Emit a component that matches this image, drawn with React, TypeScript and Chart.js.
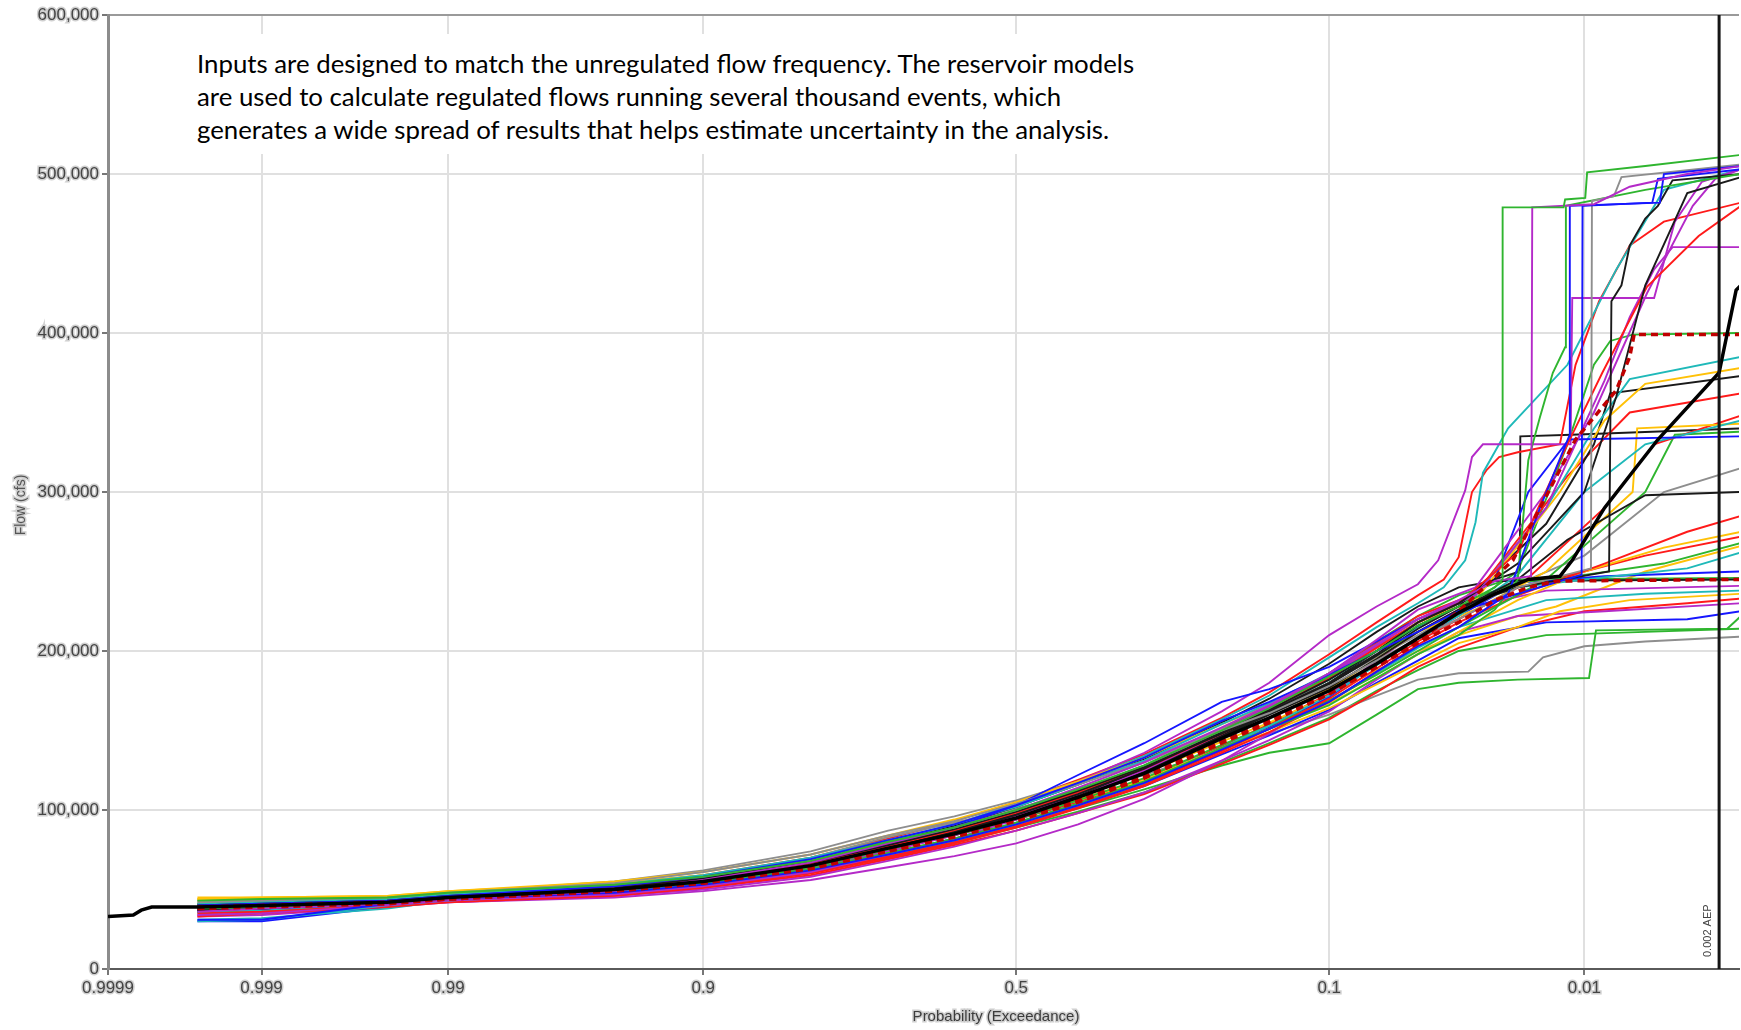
import { useEffect, useRef } from 'react';
import { Chart, registerables } from 'chart.js';

Chart.register(...registerables);

// ---------------- data (flows in thousands of cfs, x = exceedance probability) ----------------
const X_TICK_PROBS = [0.9999, 0.999, 0.99, 0.9, 0.5, 0.1, 0.01];
const X_TICK_LABELS = ['0.9999', '0.999', '0.99', '0.9', '0.5', '0.1', '0.01'];
const X_LEFT_PROB = 0.9999;
const X_RIGHT_PROB = 0.00154;
const Y_MAX = 600000;
const Y_STEP = 100000;
const AEP_PROB = 0.002;
const AEP_LABEL = '0.002 AEP';
const X_TITLE = 'Probability (Exceedance)';
const Y_TITLE = 'Flow (cfs)';
const NOTE_LINES = [
  'Inputs are designed to match the unregulated flow frequency. The reservoir models',
  'are used to calculate regulated flows running several thousand events, which',
  'generates a wide spread of results that helps estimate uncertainty in the analysis.',
];

// shared probability grid for the body of every realization
const BODY_P = [0.9996, 0.999, 0.995, 0.99, 0.95, 0.9, 0.8, 0.7, 0.6, 0.5, 0.4, 0.3, 0.2, 0.15, 0.1, 0.07, 0.05];

// median (thick black) curve
const MEDIAN_P = [0.9999, 0.99985, 0.99983, 0.9998, 0.9996, 0.999, 0.995, 0.99, 0.95, 0.9, 0.8, 0.7, 0.6, 0.5, 0.4, 0.3, 0.2, 0.15, 0.1, 0.07, 0.05, 0.035, 0.025, 0.018, 0.013, 0.0114, 0.008, 0.0043, 0.002, 0.0016, 0.0015];
const MEDIAN_FLOW = [33, 34, 37, 39, 39, 40, 42, 45, 50, 55, 65, 76, 85, 95, 108, 123, 145, 158, 175, 192, 208, 224, 236, 245, 247, 257, 290, 333, 375, 427, 430];

// dashed dark-red curves
const D1_BODY = [39, 40, 42, 44, 49, 54, 63, 74, 83, 93, 105, 120, 142, 155, 173, 190, 206];
const D1_TAIL = [[0.035, 225], [0.021, 257], [0.011, 333], [0.007, 364], [0.006, 385], [0.0057, 399], [0.0015, 399]];
const D2_BODY = [38, 39, 41, 44, 49, 54, 64, 75, 84, 94, 106, 121, 143, 156, 173, 190, 205];
const D2_TAIL = [[0.035, 218], [0.025, 232], [0.018, 240], [0.0135, 244], [0.0015, 245]];

// individual realizations: body on BODY_P, tail as [probability, flow] pairs
const S01 = [43, 44, 45, 48, 53, 58, 68, 80, 89, 100, 113, 128, 150, 164, 184, 200, 216];
const T01 = [[0.035, 228], [0.025, 240], [0.0232, 245], [0.0232, 479], [0.0125, 479], [0.0123, 484], [0.0099, 485], [0.0097, 501], [0.005, 505], [0.0015, 512]];
const S02 = [36, 38, 41, 44, 49, 56, 67, 79, 89, 100, 114, 130, 152, 166, 186, 204, 220];
const T02 = [[0.035, 232], [0.025, 244], [0.0175, 247], [0.0173, 479], [0.009, 481], [0.006, 492], [0.003, 500], [0.0015, 505]];
const S03 = [31, 31, 41, 44, 48, 53, 62, 72, 81, 91, 103, 117, 138, 151, 168, 187, 203];
const T03 = [[0.035, 215], [0.022, 236], [0.016, 290], [0.0118, 335], [0.0117, 480], [0.0042, 482], [0.004, 500], [0.0015, 505]];
const S04 = [40, 41, 43, 46, 52, 58, 69, 81, 91, 103, 117, 133, 156, 168, 185, 200, 212];
const T04 = [[0.035, 225], [0.02, 236], [0.0103, 248], [0.0102, 480], [0.0046, 482], [0.0043, 497], [0.0015, 503]];
const S05 = [42, 43, 45, 48, 54, 61, 72, 84, 93, 104, 116, 130, 150, 161, 178, 194, 208];
const T05 = [[0.035, 220], [0.02, 240], [0.0093, 252], [0.0092, 483], [0.0072, 486], [0.0066, 498], [0.0015, 506]];
const S06 = [38, 39, 41, 44, 49, 54, 63, 73, 82, 92, 104, 118, 139, 151, 166, 183, 198];
const T06 = [[0.035, 210], [0.025, 226], [0.02, 245], [0.018, 320], [0.016, 347], [0.014, 375], [0.0123, 391], [0.0122, 480], [0.005, 490], [0.0015, 500]];
const S07 = [40, 41, 43, 46, 51, 57, 67, 78, 88, 99, 112, 127, 148, 162, 180, 198, 216];
const T07 = [[0.035, 228], [0.02, 240], [0.0076, 250], [0.0074, 420], [0.0066, 430], [0.006, 455], [0.005, 472], [0.0043, 480], [0.0036, 496], [0.0015, 500]];
const S08 = [37, 38, 42, 45, 50, 55, 65, 76, 86, 97, 110, 126, 149, 163, 182, 200, 218];
const T08 = [[0.035, 230], [0.02, 255], [0.01, 300], [0.007, 360], [0.005, 430], [0.003, 488], [0.0015, 498]];
const S09 = [39, 40, 42, 45, 51, 57, 66, 77, 87, 98, 111, 126, 148, 163, 183, 202, 218];
const T09 = [[0.035, 230], [0.02, 262], [0.012, 330], [0.0082, 375], [0.0049, 429], [0.0026, 461], [0.0015, 480]];
const S10 = [34, 35, 40, 43, 47, 52, 61, 72, 82, 94, 108, 125, 148, 164, 186, 207, 226];
const T10 = [[0.03, 240], [0.015, 300], [0.009, 350], [0.0049, 425], [0.0028, 480], [0.0021, 497], [0.0015, 503]];
const S11 = [38, 39, 41, 44, 49, 54, 63, 74, 84, 96, 110, 127, 150, 165, 185, 203, 220];
const T11 = [[0.03, 235], [0.015, 290], [0.008, 370], [0.006, 410], [0.0045, 440], [0.0036, 454], [0.0015, 454]];
const S14 = [37, 38, 41, 45, 50, 56, 66, 78, 89, 103, 122, 142, 168, 176, 190, 206, 220];
const T14 = [[0.035, 230], [0.025, 245], [0.018, 300], [0.0118, 333], [0.0015, 335]];
const S15 = [39, 40, 42, 45, 50, 56, 66, 77, 86, 96, 109, 124, 146, 160, 177, 195, 212];
const T15 = [[0.035, 226], [0.02, 245], [0.012, 270], [0.005, 298], [0.0015, 300]];
const S16 = [41, 42, 44, 47, 53, 59, 70, 81, 91, 102, 116, 131, 154, 167, 186, 204, 220];
const T16 = [[0.03, 235], [0.015, 290], [0.009, 340], [0.006, 371], [0.0015, 385]];
const S17 = [45, 45, 46, 49, 55, 61, 72, 84, 94, 105, 118, 133, 154, 166, 184, 202, 218];
const T17 = [[0.03, 232], [0.013, 300], [0.008, 345], [0.005, 368], [0.0015, 378]];
const S18 = [38, 39, 42, 45, 49, 55, 65, 76, 86, 97, 110, 125, 147, 161, 179, 197, 214];
const T18 = [[0.035, 228], [0.015, 280], [0.009, 330], [0.0075, 362], [0.0015, 373]];
const S19 = [40, 41, 43, 46, 52, 57, 67, 78, 88, 99, 112, 127, 150, 165, 186, 205, 222];
const T19 = [[0.03, 236], [0.012, 310], [0.006, 350], [0.0015, 362]];
const S20 = [30, 31, 40, 43, 48, 53, 62, 72, 81, 91, 103, 117, 139, 153, 172, 191, 208];
const T20 = [[0.035, 222], [0.02, 248], [0.01, 300], [0.005, 330], [0.0015, 345]];
const S21 = [44, 44, 45, 48, 53, 58, 68, 79, 88, 98, 110, 124, 145, 158, 176, 195, 212];
const T21 = [[0.03, 226], [0.015, 250], [0.0058, 300], [0.0055, 340], [0.0015, 343]];
const S22 = [35, 36, 40, 43, 47, 52, 61, 71, 80, 90, 102, 116, 137, 151, 170, 189, 206];
const T22 = [[0.035, 220], [0.02, 240], [0.008, 290], [0.0045, 330], [0.0015, 348]];
const S23 = [39, 40, 42, 45, 50, 55, 64, 75, 84, 94, 106, 120, 141, 153, 169, 185, 200];
const T23 = [[0.035, 215], [0.015, 245], [0.005, 300], [0.0035, 336], [0.0015, 338]];
const S24 = [43, 43, 45, 48, 55, 62, 74, 87, 96, 106, 118, 131, 151, 163, 180, 196, 210];
const T24 = [[0.035, 224], [0.02, 242], [0.01, 260], [0.004, 300], [0.0015, 315]];
const S25 = [33, 35, 39, 42, 46, 51, 60, 70, 79, 89, 101, 115, 136, 149, 168, 187, 204];
const T25 = [[0.035, 218], [0.02, 235], [0.008, 255], [0.003, 275], [0.0015, 285]];
const S26 = [43, 44, 45, 48, 53, 58, 67, 77, 86, 95, 106, 119, 139, 151, 167, 183, 198];
const T26 = [[0.035, 212], [0.02, 232], [0.01, 250], [0.004, 265], [0.0015, 275]];
const S27 = [40, 41, 43, 46, 52, 57, 67, 78, 88, 99, 112, 128, 151, 165, 184, 202, 218];
const T27 = [[0.035, 230], [0.02, 243], [0.0125, 246], [0.004, 255], [0.0015, 268]];
const S28 = [31, 32, 38, 43, 49, 55, 65, 76, 86, 97, 110, 126, 149, 163, 182, 200, 215];
const T28 = [[0.035, 228], [0.02, 240], [0.01, 245], [0.003, 252], [0.0015, 262]];
const S29 = [30, 30, 39, 43, 47, 52, 61, 71, 80, 90, 102, 116, 138, 152, 171, 192, 208];
const T29 = [[0.035, 222], [0.02, 243], [0.008, 247], [0.0015, 250]];
const S30 = [37, 38, 42, 45, 50, 56, 67, 79, 90, 102, 116, 132, 155, 170, 192, 212, 228];
const T30 = [[0.035, 240], [0.025, 244], [0.0015, 245]];
const S31 = [41, 42, 44, 47, 52, 57, 67, 78, 88, 99, 112, 127, 150, 165, 186, 206, 222];
const T31 = [[0.035, 235], [0.022, 245], [0.0015, 246]];
const S32 = [33, 34, 39, 42, 45, 49, 56, 64, 71, 79, 91, 107, 131, 148, 172, 194, 212];
const T32 = [[0.035, 226], [0.015, 238], [0.0015, 241]];
const S33 = [36, 37, 41, 44, 48, 53, 62, 72, 82, 92, 104, 118, 139, 151, 168, 186, 202];
const T33 = [[0.035, 215], [0.015, 232], [0.005, 236], [0.0015, 238]];
const S34 = [44, 45, 46, 49, 54, 59, 68, 78, 87, 96, 107, 119, 138, 149, 164, 179, 192];
const T34 = [[0.035, 205], [0.02, 215], [0.013, 225], [0.006, 232], [0.0015, 236]];
const S35 = [34, 35, 40, 42, 46, 50, 58, 68, 77, 87, 98, 111, 131, 144, 162, 182, 198];
const T35 = [[0.035, 212], [0.02, 222], [0.008, 225], [0.0015, 230]];
const S36 = [38, 39, 41, 44, 48, 53, 62, 72, 81, 91, 102, 115, 135, 147, 163, 180, 194];
const T36 = [[0.035, 208], [0.015, 218], [0.003, 220], [0.0015, 225]];
const S37 = [37, 38, 40, 43, 47, 51, 59, 69, 78, 87, 98, 110, 129, 141, 157, 174, 190];
const T37 = [[0.035, 202], [0.02, 215], [0.01, 225], [0.003, 230], [0.0015, 233]];
const S38 = [40, 41, 43, 45, 49, 54, 63, 73, 82, 91, 101, 113, 128, 136, 142, 160, 176];
const T38 = [[0.035, 180], [0.02, 182], [0.0095, 183], [0.0088, 213], [0.0018, 214], [0.0015, 222]];
const S39 = [39, 40, 42, 45, 51, 58, 70, 83, 92, 101, 111, 122, 138, 148, 160, 172, 182];
const T39 = [[0.035, 186], [0.018, 187], [0.0155, 196], [0.01, 203], [0.005, 206], [0.0015, 209]];
const S40 = [36, 37, 40, 43, 47, 52, 61, 70, 79, 89, 99, 111, 130, 142, 158, 175, 188];
const T40 = [[0.035, 200], [0.015, 210], [0.005, 212], [0.0015, 214]];
const S41 = [39, 40, 42, 45, 50, 55, 65, 76, 86, 97, 109, 123, 143, 155, 172, 188, 200];
const T41 = [[0.035, 210], [0.02, 222], [0.0135, 228], [0.005, 250], [0.0015, 266]];
const S42 = [41, 42, 44, 47, 51, 56, 65, 75, 84, 94, 105, 119, 140, 154, 173, 192, 208];
const T42 = [[0.035, 220], [0.02, 240], [0.01, 250], [0.005, 260], [0.0015, 272]];
const S43 = [38, 39, 42, 45, 50, 56, 66, 78, 89, 102, 118, 136, 162, 180, 210, 228, 242];
const T43 = [[0.042, 257], [0.033, 301], [0.031, 322], [0.028, 330], [0.0116, 330], [0.0114, 422], [0.0045, 422], [0.0035, 470], [0.0025, 495], [0.0015, 503]];
const S44 = [35, 36, 41, 45, 51, 57, 68, 80, 91, 104, 118, 134, 157, 172, 196, 215, 230];
const T44 = [[0.04, 240], [0.033, 257], [0.03, 281], [0.028, 312], [0.022, 340], [0.012, 380], [0.007, 440], [0.004, 490], [0.0015, 503]];
const S45 = [40, 41, 44, 47, 53, 59, 70, 82, 93, 105, 119, 135, 158, 174, 198, 218, 235];
const T45 = [[0.04, 245], [0.035, 259], [0.031, 300], [0.027, 314], [0.024, 322], [0.02, 325], [0.013, 330], [0.011, 380], [0.0085, 420], [0.006, 455], [0.004, 470], [0.0015, 482]];
const S46 = [36, 37, 41, 44, 49, 54, 64, 75, 85, 96, 109, 124, 147, 161, 180, 200, 218];
const T46 = [[0.035, 230], [0.025, 245], [0.0196, 250], [0.0195, 335], [0.0115, 336], [0.0015, 340]];
const S47 = [39, 40, 42, 45, 50, 56, 66, 77, 87, 98, 111, 126, 148, 162, 180, 197, 212];
const T47 = [[0.035, 225], [0.02, 250], [0.012, 330], [0.009, 380], [0.0075, 395], [0.0058, 399], [0.0015, 400]];

const GREEN = '#2fb52f';
const BLUE = '#1616ff';
const RED = '#ff1a1a';
const MAGENTA = '#b42ac8';
const CYAN = '#1fb9b9';
const GOLD = '#ffc107';
const BLACK = '#1a1a1a';
const GRAY = '#8e8e8e';
const DASH_RED = '#c00000';

const THIN_SERIES: [string, number[], number[][]][] = [
  [GREEN, S01, T01], [MAGENTA, S02, T02], [BLUE, S03, T03], [BLUE, S04, T04],
  [GRAY, S05, T05], [GREEN, S06, T06], [BLACK, S07, T07], [BLACK, S08, T08],
  [RED, S09, T09], [MAGENTA, S10, T10], [MAGENTA, S11, T11], [BLUE, S14, T14],
  [BLACK, S15, T15], [CYAN, S16, T16], [GOLD, S17, T17], [BLACK, S18, T18],
  [RED, S19, T19], [CYAN, S20, T20], [GOLD, S21, T21], [RED, S22, T22],
  [GREEN, S23, T23], [GRAY, S24, T24], [RED, S25, T25], [GOLD, S26, T26],
  [GREEN, S27, T27], [CYAN, S28, T28], [BLUE, S29, T29], [BLACK, S30, T30],
  [GREEN, S31, T31], [MAGENTA, S32, T32], [CYAN, S33, T33], [GOLD, S34, T34],
  [MAGENTA, S35, T35], [BLUE, S36, T36], [RED, S37, T37], [GREEN, S38, T38],
  [GRAY, S39, T39], [GREEN, S40, T40], [GOLD, S41, T41], [RED, S42, T42],
  [MAGENTA, S43, T43], [CYAN, S44, T44], [RED, S45, T45], [BLACK, S46, T46],
  [GREEN, S47, T47],
];
const DASHED_SERIES: [number[], number[][]][] = [[D1_BODY, D1_TAIL], [D2_BODY, D2_TAIL]];

// ---------------- normal probability axis transform ----------------
function normInv(p: number): number {
  const a = [-3.969683028665376e1, 2.209460984245205e2, -2.759285104469687e2, 1.38357751867269e2, -3.066479806614716e1, 2.506628277459239];
  const b = [-5.447609879822406e1, 1.615858368580409e2, -1.556989798598866e2, 6.680131188771972e1, -1.328068155288572e1];
  const c = [-7.784894002430293e-3, -3.223964580411365e-1, -2.400758277161838, -2.549732539343734, 4.374664141464968, 2.938163982698783];
  const d = [7.784695709041462e-3, 3.224671290700398e-1, 2.445134137142996, 3.754408661907416];
  const pl = 0.02425;
  if (p < pl) {
    const q = Math.sqrt(-2 * Math.log(p));
    return (((((c[0] * q + c[1]) * q + c[2]) * q + c[3]) * q + c[4]) * q + c[5]) / ((((d[0] * q + d[1]) * q + d[2]) * q + d[3]) * q + 1);
  }
  if (p <= 1 - pl) {
    const q = p - 0.5;
    const r = q * q;
    return ((((((a[0] * r + a[1]) * r + a[2]) * r + a[3]) * r + a[4]) * r + a[5]) * q) / (((((b[0] * r + b[1]) * r + b[2]) * r + b[3]) * r + b[4]) * r + 1);
  }
  const q = Math.sqrt(-2 * Math.log(1 - p));
  return -(((((c[0] * q + c[1]) * q + c[2]) * q + c[3]) * q + c[4]) * q + c[5]) / ((((d[0] * q + d[1]) * q + d[2]) * q + d[3]) * q + 1);
}
const zOf = (exceed: number) => normInv(1 - exceed);

function buildPoints(body: number[], tail: number[][]) {
  const pts = body.map((f, i) => ({ x: zOf(BODY_P[i]), y: f * 1000 }));
  tail.forEach(([p, f]) => pts.push({ x: zOf(p), y: f * 1000 }));
  return pts;
}

const FONT = '"Liberation Sans", Arial, Helvetica, sans-serif';
const TICK_COLOR = '#444';
const HALO = 'rgba(200,200,200,0.85)';

const overlayPlugin = {
  id: 'overlay',
  afterDatasetsDraw(chart: any) {
    const { ctx, chartArea, scales } = chart;
    const x = scales.x.getPixelForValue(zOf(AEP_PROB));
    ctx.save();
    ctx.strokeStyle = '#151515';
    ctx.lineWidth = 3;
    ctx.beginPath();
    ctx.moveTo(x, chartArea.top);
    ctx.lineTo(x, chartArea.bottom);
    ctx.stroke();
    ctx.translate(x - 11, chartArea.bottom - 12);
    ctx.rotate(-Math.PI / 2);
    ctx.font = '11px ' + FONT;
    ctx.fillStyle = '#444';
    ctx.textAlign = 'left';
    ctx.textBaseline = 'middle';
    ctx.fillText(AEP_LABEL, 0, 0);
    ctx.restore();
  },
  afterDraw(chart: any) {
    const { ctx } = chart;
    ctx.save();
    ctx.font = '15px ' + FONT;
    ctx.textAlign = 'center';
    ctx.textBaseline = 'middle';
    ctx.lineWidth = 3;
    ctx.strokeStyle = HALO;
    ctx.fillStyle = '#3c3c3c';
    ctx.strokeText(X_TITLE, 996, 1017);
    ctx.fillText(X_TITLE, 996, 1017);
    ctx.translate(21, 505);
    ctx.rotate(-Math.PI / 2);
    ctx.font = '14px ' + FONT;
    ctx.fillStyle = '#555';
    ctx.strokeText(Y_TITLE, 0, 0);
    ctx.fillText(Y_TITLE, 0, 0);
    ctx.restore();
  },
};

export default function App() {
  const ref = useRef<HTMLCanvasElement>(null);
  useEffect(() => {
    document.body.style.margin = '0';
    const datasets: any[] = [];
    datasets.push({
      data: MEDIAN_P.map((p, i) => ({ x: zOf(p), y: MEDIAN_FLOW[i] * 1000 })),
      borderColor: '#000',
      borderWidth: 3.5,
    });
    DASHED_SERIES.forEach(([body, tail]) => {
      datasets.push({ data: buildPoints(body, tail), borderColor: DASH_RED, borderWidth: 3.5, borderDash: [7, 5] });
    });
    THIN_SERIES.forEach(([color, body, tail]) => {
      datasets.push({ data: buildPoints(body, tail), borderColor: color, borderWidth: 1.9 });
    });
    datasets.forEach((d) => {
      d.pointRadius = 0;
      d.tension = 0;
      d.fill = false;
    });
    const chart = new Chart(ref.current as HTMLCanvasElement, {
      type: 'line',
      data: { datasets },
      options: {
        animation: false,
        responsive: false,
        events: [],
        parsing: false,
        layout: { padding: { top: 15, right: 2, left: 0, bottom: 0 } },
        plugins: { legend: { display: false }, tooltip: { enabled: false } },
        scales: {
          x: {
            type: 'linear',
            min: zOf(X_LEFT_PROB),
            max: zOf(X_RIGHT_PROB),
            afterBuildTicks: (s: any) => {
              s.ticks = X_TICK_PROBS.map((p) => ({ value: zOf(p) }));
            },
            afterFit: (s: any) => {
              s.height = 61;
            },
            ticks: {
              autoSkip: false,
              maxRotation: 0,
              padding: 3,
              color: TICK_COLOR,
              font: { size: 17, family: FONT },
              textStrokeColor: HALO,
              textStrokeWidth: 3,
              callback: (_v: any, i: number) => X_TICK_LABELS[i],
            },
            grid: { color: '#e0e0e0', lineWidth: 2, tickLength: 6, tickColor: '#777' },
            border: { color: '#5a5a5a', width: 2 },
          },
          y: {
            type: 'linear',
            min: 0,
            max: Y_MAX,
            afterFit: (s: any) => {
              s.width = 108;
            },
            ticks: {
              stepSize: Y_STEP,
              padding: 3,
              color: TICK_COLOR,
              font: { size: 17, family: FONT },
              textStrokeColor: HALO,
              textStrokeWidth: 3,
              callback: (v: any) => Number(v).toLocaleString('en-US'),
            },
            grid: {
              color: (c: any) => (c.tick && c.tick.value === Y_MAX ? '#9a9a9a' : '#e0e0e0'),
              lineWidth: 2,
              tickLength: 6,
              tickColor: '#777',
            },
            border: { color: '#8c8c8c', width: 3 },
          },
        },
      } as any,
      plugins: [overlayPlugin],
    });
    return () => chart.destroy();
  }, []);

  return (
    <div style={{ position: 'relative', width: 1741, height: 1030, background: '#fff', overflow: 'hidden' }}>
      <canvas ref={ref} width={1741} height={1030} style={{ display: 'block' }} />
      <div style={{ position: 'absolute', left: 176, top: 34, width: 990, height: 120, background: '#fff' }}>
        <div
          style={{
            position: 'absolute',
            left: 21,
            top: 13,
            fontFamily: 'Lato, "Noto Sans", sans-serif',
            fontSize: 25.8,
            lineHeight: '33px',
            whiteSpace: 'nowrap',
            color: '#000',
          }}
        >
          {NOTE_LINES.map((l, i) => (
            <div key={i}>{l}</div>
          ))}
        </div>
      </div>
    </div>
  );
}
